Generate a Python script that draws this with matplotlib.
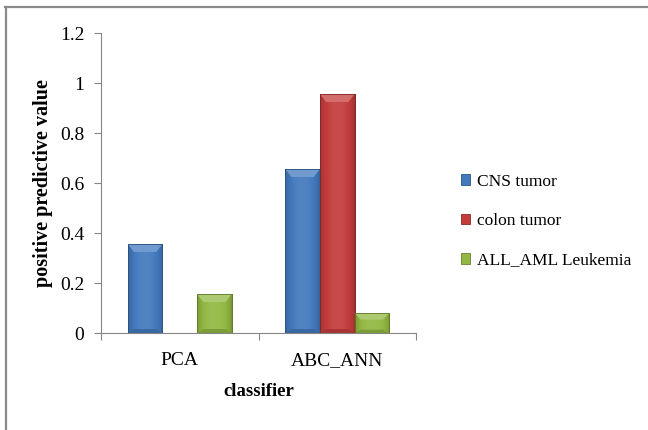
import matplotlib
matplotlib.use("Agg")
import matplotlib.pyplot as plt
import numpy as np
from matplotlib.colors import to_rgb
from matplotlib.lines import Line2D
from matplotlib.patches import Polygon

categories = ["PCA", "ABC_ANN"]
series_names = ["CNS tumor", "colon tumor", "ALL_AML Leukemia"]
cns_tumor = [0.356, 0.656]
colon_tumor = [0.0, 0.956]
all_aml = [0.156, 0.08]
yticks = [0, 0.2, 0.4, 0.6, 0.8, 1, 1.2]
ytick_labels = ["0", "0.2", "0.4", "0.6", "0.8", "1", "1.2"]

colors = ["#4279BD", "#C43C3C", "#92B842"]

plt.rcParams["font.family"] = ["Liberation Serif", "DejaVu Serif"]

fig = plt.figure(figsize=(6.48, 4.30), dpi=100)
ax = fig.add_axes([101 / 648, 1 - 333 / 430, (416 - 101) / 648, (333 - 33) / 430])

x = np.arange(len(categories))
width = 0.22
offsets = [-width, 0.0, width]


def shade(c, f):
    r, g, b = to_rgb(c)
    if f >= 1:
        return tuple(min(1, v + (1 - v) * (f - 1)) for v in (r, g, b))
    return tuple(v * f for v in (r, g, b))


for vals, off, col, name in zip([cns_tumor, colon_tumor, all_aml], offsets, colors, series_names):
    bars = ax.bar(x + off, vals, width, color=col, label=name, zorder=2,
                  edgecolor=shade(col, 0.7), linewidth=0.6)
    for b in bars:
        h = b.get_height()
        if h <= 0:
            continue
        x0, w = b.get_x(), b.get_width()
        # horizontal shading across the bar face
        n = 64
        t = np.linspace(0, 1, n)
        prof = 0.8 + 0.28 * np.sin(np.pi * t) ** 0.6
        img = np.array([[shade(col, p) for p in prof]])
        im = ax.imshow(img, extent=[x0, x0 + w, 0, h], aspect="auto",
                       zorder=2.1, interpolation="bilinear")
        im.set_clip_path(b)
        # bevelled top and bottom edges
        d = min(0.032, h / 3)
        ins = 0.18 * w
        ax.add_patch(Polygon([(x0, h), (x0 + w, h), (x0 + w - ins, h - d), (x0 + ins, h - d)],
                             closed=True, facecolor=shade(col, 1.25), edgecolor="none", zorder=2.2))
        ax.add_patch(Polygon([(x0, 0), (x0 + w, 0), (x0 + w - ins, d * 0.5), (x0 + ins, d * 0.5)],
                             closed=True, facecolor=shade(col, 0.85), edgecolor="none", zorder=2.2))
        ax.add_patch(plt.Rectangle((x0, 0), w, h, facecolor="none",
                                   edgecolor=shade(col, 0.65), linewidth=0.6, zorder=2.3))

ax.set_xlim(-0.5, 1.5)
ax.set_ylim(0, 1.2)
ax.set_yticks(yticks)
ax.set_yticklabels(ytick_labels, fontsize=14)
ax.set_xticks(x)
ax.set_xticklabels(categories, fontsize=14)
ax.set_xticks([-0.5, 0.5, 1.5], minor=True)
ax.tick_params(axis="x", which="major", length=0, pad=14)
ax.tick_params(axis="x", which="minor", length=5, color="#868686", width=0.8)
ax.tick_params(axis="y", length=5, color="#868686", width=0.8, pad=7)

for s in ["top", "right"]:
    ax.spines[s].set_visible(False)
for s in ["left", "bottom"]:
    ax.spines[s].set_color("#868686")
    ax.spines[s].set_linewidth(0.8)

ax.set_ylabel("positive predictive value", fontsize=14.5, fontweight="bold", labelpad=5)
ax.set_xlabel("classifier", fontsize=13.5, fontweight="bold", labelpad=10)

ax.legend(loc="center left", bbox_to_anchor=(445 / 648, 1 - 221 / 430),
          bbox_transform=fig.transFigure, frameon=False, fontsize=12.5,
          handlelength=0.55, handleheight=0.55, handletextpad=0.4, labelspacing=1.35)

# chart border
fig.add_artist(Line2D([5 / 648, 1], [1 - 7 / 430, 1 - 7 / 430], color="#8a8a8a", lw=1.6,
                      transform=fig.transFigure))
fig.add_artist(Line2D([6 / 648, 6 / 648], [0, 1 - 7 / 430], color="#8a8a8a", lw=1.6,
                      transform=fig.transFigure))

fig.savefig("out.png", dpi=100)
